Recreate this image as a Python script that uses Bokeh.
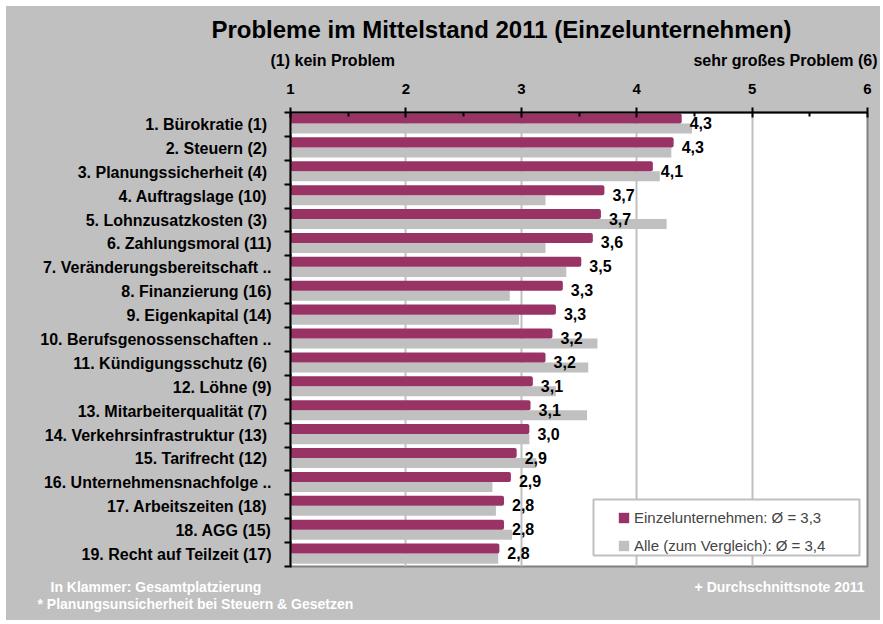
from bokeh.plotting import figure
from bokeh.layouts import column
from bokeh.models import Range1d, FixedTicker, Legend, LegendItem, ColumnDataSource
from bokeh.core.properties import value
from bokeh.embed import file_html
from bokeh.resources import INLINE

# ---------------- data ----------------
categories = [
    "1. Bürokratie  (1)", "2. Steuern  (2)", "3. Planungssicherheit  (4)",
    "4. Auftragslage  (10)", "5. Lohnzusatzkosten  (3)", "6. Zahlungsmoral (11)",
    "7. Veränderungsbereitschaft ..", "8. Finanzierung (16)", "9. Eigenkapital (14)",
    "10. Berufsgenossenschaften ..", "11. Kündigungsschutz  (6)", "12. Löhne (9)",
    "13. Mitarbeiterqualität  (7)", "14. Verkehrsinfrastruktur  (13)",
    "15. Tarifrecht  (12)", "16. Unternehmensnachfolge ..", "17. Arbeitszeiten  (18)",
    "18. AGG (15)", "19. Recht auf Teilzeit (17)",
]
einzel = [4.39, 4.32, 4.14, 3.72, 3.69, 3.62, 3.52, 3.36, 3.30, 3.27,
          3.21, 3.10, 3.08, 3.07, 2.96, 2.91, 2.85, 2.85, 2.81]
alle = [4.48, 4.30, 4.20, 3.21, 4.26, 3.21, 3.39, 2.90, 2.98, 3.66,
        3.58, 3.30, 3.57, 3.07, 3.13, 2.75, 2.78, 2.92, 2.80]
value_labels = ["4,3", "4,3", "4,1", "3,7", "3,7", "3,6", "3,5", "3,3", "3,3", "3,2",
                "3,2", "3,1", "3,1", "3,0", "2,9", "2,9", "2,8", "2,8", "2,8"]
x_ticks = [1, 2, 3, 4, 5, 6]
series_names = ["Einzelunternehmen: Ø = 3,3", "Alle (zum Vergleich): Ø = 3,4"]
title_text = "Probleme im Mittelstand 2011 (Einzelunternehmen)"
scale_left = "(1) kein Problem"
scale_right = "sehr großes Problem (6)"
footer_left = ["In Klammer: Gesamtplatzierung", "* Planungsunsicherheit  bei Steuern & Gesetzen"]
footer_right = "+  Durchschnittsnote 2011"

MAGENTA = "#993366"
GRAY = "#c0c0c0"
FONT = "Liberation Sans"

# page-pixel layout (chart box spans x 6..880, y 6..620)
X0, X1 = 6, 880
W = X1 - X0
HEAD_T, HEAD_B = 6, 76
MAIN_B = 570
FOOT_B = 620
L, R, T, B = 290, 867, 112, 566   # plot frame in page px
XMIN, XMAX = 1, 6
N = len(categories)


def text_fig(top, bottom):
    f = figure(width=W, height=bottom - top, x_range=Range1d(X0, X1), y_range=Range1d(bottom, top),
               x_axis_type=None, y_axis_type=None, output_backend="svg", toolbar_location=None,
               min_border=0, background_fill_color=GRAY, border_fill_color=GRAY,
               outline_line_color=None, frame_align=False)
    return f


def put(f, txt, x, y, size, align="left", color="black", style="bold"):
    f.text(x=[x], y=[y], text=[txt], text_font=value(FONT), text_font_size=size,
           text_font_style=style, text_color=color, text_align=align, text_baseline="middle")


# ---------------- header ----------------
head = text_fig(HEAD_T, HEAD_B)
put(head, title_text, 501, 29, "24px", align="center")
put(head, scale_left, 270, 60, "16px")
put(head, scale_right, 877, 60, "16px", align="right")

# ---------------- main chart ----------------
p = figure(width=W, height=MAIN_B - HEAD_B, x_range=Range1d(XMIN, XMAX),
           y_range=Range1d(N - 0.5, -0.5),
           x_axis_location="above", output_backend="svg", toolbar_location=None,
           min_border_left=L - X0, min_border_right=X1 - R, min_border_top=T - HEAD_B,
           min_border_bottom=MAIN_B - B, frame_align=False,
           background_fill_color="white", border_fill_color=GRAY,
           outline_line_color="#808080", outline_line_width=2)

xa = p.xaxis[0]
xa.ticker = FixedTicker(ticks=x_ticks, minor_ticks=[t + 0.5 for t in x_ticks[:-1]])
xa.axis_line_width = 2
xa.axis_line_color = "black"
xa.major_tick_in = 5
xa.major_tick_out = 5
xa.major_tick_line_width = 2
xa.minor_tick_in = 4
xa.minor_tick_out = 0
xa.minor_tick_line_width = 2
xa.major_label_text_font = FONT
xa.major_label_text_font_style = "bold"
xa.major_label_text_font_size = "15px"
xa.major_label_text_color = "black"
xa.major_label_standoff = 14

ya = p.yaxis[0]
idx = list(range(N))
ya.ticker = FixedTicker(ticks=idx, minor_ticks=[i - 0.5 for i in range(N + 1)])
ya.major_label_overrides = {i: c for i, c in zip(idx, categories)}
ya.axis_line_width = 2
ya.axis_line_color = "black"
ya.major_tick_in = 0
ya.major_tick_out = 0
ya.minor_tick_in = 1
ya.minor_tick_out = 6
ya.minor_tick_line_width = 2
ya.major_label_text_font = FONT
ya.major_label_text_font_style = "bold"
ya.major_label_text_font_size = "16px"
ya.major_label_text_color = "black"
ya.major_label_standoff = 13

p.xgrid.grid_line_color = GRAY
p.xgrid.grid_line_width = 2
p.ygrid.visible = False

src = ColumnDataSource(dict(y=idx, einzel=einzel, alle=alle, lab=value_labels,
                            y1=[i - 0.25 for i in idx], y2=[i + 0.17 for i in idx],
                            yl=[i - 0.06 for i in idx]))

r_alle = p.hbar(y="y2", left=XMIN, right="alle", height=0.42, source=src,
                fill_color=GRAY, line_color=None)
r_einzel = p.hbar(y="y1", left=XMIN, right="einzel", height=0.42, source=src,
                  fill_color=MAGENTA, line_color=None, border_radius=2)
p.text(x="einzel", y="yl", text="lab", source=src, x_offset=8,
       text_font=value(FONT), text_font_style="bold", text_font_size="16px",
       text_align="left", text_baseline="middle", text_color="black")


def px_x(px):
    return XMIN + (px - L) / (R - L) * (XMAX - XMIN)


def px_y(py):
    return -0.5 + (py - T) / (B - T) * N


p.quad(left=px_x(593), right=px_x(859), top=px_y(499), bottom=px_y(555),
       fill_color="white", line_color=GRAY, line_width=2)
legend = Legend(items=[LegendItem(label=series_names[0], renderers=[r_einzel]),
                       LegendItem(label=series_names[1], renderers=[r_alle])],
                location=(617 - 3 - L, B - 557),
                background_fill_alpha=0, border_line_alpha=0,
                padding=3, spacing=10, label_height=18, glyph_width=13, glyph_height=13,
                label_standoff=4, margin=0,
                label_text_font=FONT, label_text_font_size="15px")
p.add_layout(legend, "center")

# ---------------- footer ----------------
foot = text_fig(MAIN_B, FOOT_B)
put(foot, footer_left[0], 50, 586, "14px", color="white")
put(foot, footer_left[1], 37, 603, "14px", color="white")
put(foot, footer_right, 868, 586, "14px", align="right", color="white")

layout = column(head, p, foot, spacing=0, margin=(6, 0, 0, 6),
                styles={"background-color": GRAY})
open("out.html", "w").write(file_html(layout, INLINE))
